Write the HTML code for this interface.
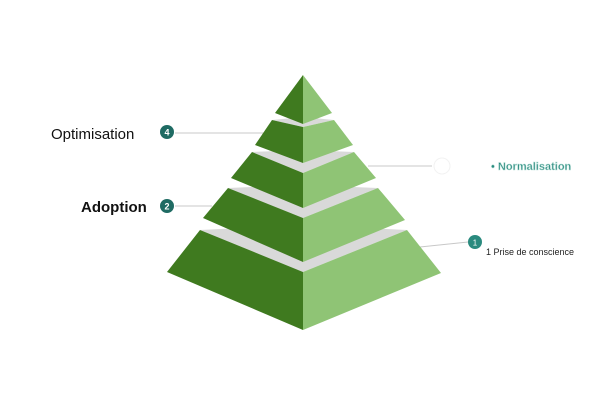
<!DOCTYPE html>
<html><head><style>
body{margin:0;background:#fff;width:608px;height:405px;overflow:hidden;font-family:"Liberation Sans",sans-serif}
</style></head><body>
<svg width="608" height="405" viewBox="0 0 608 405" xmlns="http://www.w3.org/2000/svg">
<g stroke="#c8c8c8" stroke-width="1" fill="none">
<line x1="175" y1="133" x2="290" y2="133"/>
<line x1="175" y1="206" x2="212" y2="206"/>
<line x1="368" y1="166" x2="432" y2="166"/>
<line x1="420" y1="247" x2="468" y2="242"/>
</g>
<!-- tier 5 -->
<polygon points="200,230 303,225 407,230 303,272" fill="#d9d9d9"/>
<polygon points="200,230 303,272 303,330 167,272" fill="#3f7a1f"/>
<polygon points="407,230 303,272 303,330 441,273" fill="#8fc475"/>
<!-- tier 4 -->
<polygon points="228,188 303,185 378,188 303,218" fill="#d9d9d9"/>
<polygon points="228,188 303,218 303,262 203,218" fill="#3f7a1f"/>
<polygon points="378,188 303,218 303,262 405,220" fill="#8fc475"/>
<!-- tier 3 -->
<polygon points="252,152 303,150 354,152 303,173" fill="#d9d9d9"/>
<polygon points="252,152 303,173 303,208 231,178" fill="#3f7a1f"/>
<polygon points="354,152 303,173 303,208 376,178" fill="#8fc475"/>
<!-- tier 2 -->
<polygon points="272,120 303,117 334,120 303,127" fill="#d9d9d9"/>
<polygon points="272,120 303,127 303,163 255,145" fill="#3f7a1f"/>
<polygon points="334,120 303,127 303,163 353,145" fill="#8fc475"/>
<!-- top -->
<polygon points="303,75 303,124 275,113" fill="#3f7a1f"/>
<polygon points="303,75 303,124 332,113" fill="#8fc475"/>
<circle cx="167" cy="132" r="7" fill="#1f6b63"/>
<text x="167" y="135.5" font-size="9" font-weight="bold" fill="#fff" text-anchor="middle">4</text>
<circle cx="167" cy="206" r="7" fill="#1f6b63"/>
<text x="167" y="209.5" font-size="9" font-weight="bold" fill="#fff" text-anchor="middle">2</text>
<circle cx="475" cy="242" r="7" fill="#2a8a7e"/>
<text x="475" y="245.5" font-size="8" fill="#fff" text-anchor="middle">1</text>
<circle cx="442" cy="166" r="8" fill="#fff" stroke="#f2f2f2"/>
<text x="51" y="139" font-size="15" fill="#111">Optimisation</text>
<text x="81" y="212" font-size="15" font-weight="bold" fill="#111">Adoption</text>
<text x="491" y="170" font-size="11" font-weight="bold" fill="#2a8a7e" stroke="#bfe3dc" stroke-width="0.5">• Normalisation</text>
<text x="486" y="255" font-size="9" fill="#222">1 Prise de conscience</text>
</svg>
</body></html>
